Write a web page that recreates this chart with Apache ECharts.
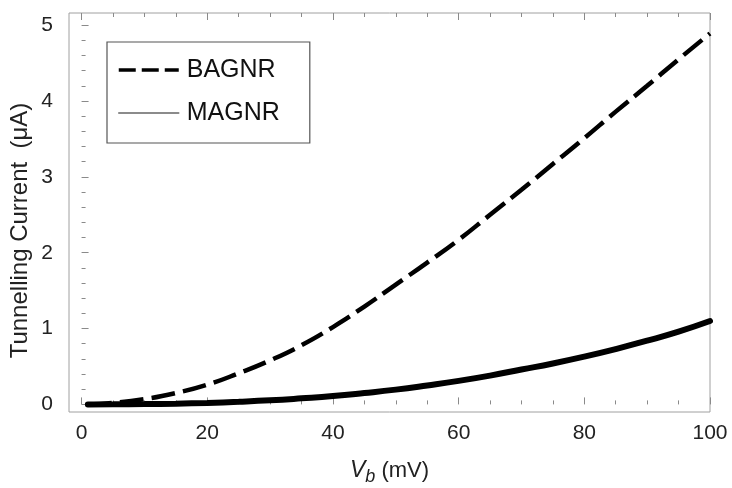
<!DOCTYPE html>
<html>
<head>
<meta charset="utf-8">
<script src="https://cdn.jsdelivr.net/npm/echarts@6/dist/echarts.min.js"></script>
<style>html,body{margin:0;padding:0;background:#fff}#c{width:732px;height:488px}</style>
</head>
<body>
<div id="c"></div>
<script>
var vb = [1, 5, 10, 15, 20, 25, 30, 35, 40, 45, 50, 55, 60, 65, 70, 75, 80, 85, 90, 95, 100];
var bagnr = [0.00, 0.02, 0.07, 0.15, 0.26, 0.41, 0.58, 0.78, 1.02, 1.29, 1.58, 1.87, 2.17, 2.50, 2.83, 3.17, 3.51, 3.86, 4.20, 4.55, 4.89];
var magnr = [0.00, 0.001, 0.004, 0.01, 0.02, 0.035, 0.054, 0.08, 0.11, 0.15, 0.195, 0.25, 0.31, 0.38, 0.46, 0.54, 0.63, 0.73, 0.84, 0.96, 1.10];
var xMajor = [0, 20, 40, 60, 80, 100];
var xMinor = [5, 10, 15, 25, 30, 35, 45, 50, 55, 65, 70, 75, 85, 90, 95];
var yMajor = [0, 1, 2, 3, 4, 5];
var yMinor = [0.2, 0.4, 0.6, 0.8, 1.2, 1.4, 1.6, 1.8, 2.2, 2.4, 2.6, 2.8, 3.2, 3.4, 3.6, 3.8, 4.2, 4.4, 4.6, 4.8];

var FONT = 'Liberation Sans';
var tickColor = '#8a8a8a';
var XMIN = -2, XMAX = 100, YMIN = -0.1, YMAX = 5.16;

function pair(a, b) { return a.map(function (v, i) { return [v, b[i]]; }); }

function xAx(pos, ticks, len, labels) {
  return {
    type: 'value', position: pos, min: XMIN, max: XMAX,
    axisLine: { show: false }, splitLine: { show: false },
    axisTick: { show: true, inside: true, length: len, customValues: ticks, lineStyle: { color: tickColor, width: 1 } },
    axisLabel: labels ? { show: true, customValues: ticks, margin: 11, fontSize: 21, fontFamily: FONT, color: '#222' } : { show: false }
  };
}
function yAx(pos, ticks, len, labels) {
  return {
    type: 'value', position: pos, min: YMIN, max: YMAX,
    axisLine: { show: false }, splitLine: { show: false },
    axisTick: { show: true, inside: true, length: len, customValues: ticks, lineStyle: { color: tickColor, width: 1 } },
    axisLabel: labels ? { show: true, customValues: ticks, margin: 16, fontSize: 21, fontFamily: FONT, color: '#222' } : { show: false }
  };
}

var xa0 = xAx('bottom', xMajor, 7, true);
xa0.name = '{i|V}{s|b} (mV)';
xa0.nameLocation = 'middle';
xa0.nameGap = 44;
xa0.nameMoveOverlap = false;
xa0.nameTextStyle = {
  fontFamily: FONT, fontSize: 22, color: '#222',
  rich: { i: { fontStyle: 'italic', fontSize: 23, fontFamily: FONT, color: '#222' }, s: { fontStyle: 'italic', fontSize: 18, fontFamily: FONT, color: '#222', verticalAlign: 'bottom', padding: [12, 0, 0, 0] } }
};
var ya0 = yAx('left', yMajor, 7, true);
ya0.name = 'Tunnelling Current  (\u03bcA)';
ya0.nameLocation = 'middle';
ya0.nameGap = 37;
ya0.nameMoveOverlap = false;
ya0.nameTextStyle = { fontFamily: FONT, fontSize: 24, color: '#222', padding: [0, 36, 0, 0] };

var chart = echarts.init(document.getElementById('c'), null, { renderer: 'canvas' });
chart.setOption({
  animation: false,
  backgroundColor: '#fff',
  grid: { left: 69, right: 22, top: 13, bottom: 76, show: true, borderColor: '#a0a0a0', borderWidth: 1, backgroundColor: 'transparent', containLabel: false, outerBoundsMode: 'none' },
  xAxis: [xa0, xAx('bottom', xMinor, 4, false), xAx('top', xMajor, 7, false), xAx('top', xMinor, 4, false)],
  yAxis: [ya0, yAx('left', yMinor, 4, false)],
  legend: {
    orient: 'vertical', left: 107, top: 42,
    borderColor: '#555', borderWidth: 1.2, borderRadius: 0,
    padding: [13, 30, 15, 10],
    itemWidth: 60, itemHeight: 14, itemGap: 13,
    textStyle: { fontFamily: FONT, fontSize: 25, color: '#111', lineHeight: 30, padding: [0, 0, 0, 3] },
    data: [
      { name: 'BAGNR', itemStyle: { opacity: 0 }, lineStyle: { color: '#000', width: 3.5, type: [17, 6] } },
      { name: 'MAGNR', itemStyle: { opacity: 0 }, lineStyle: { color: '#666', width: 1.5, type: 'solid' } }
    ]
  },
  series: [
    {
      name: 'BAGNR', type: 'line', data: pair(vb, bagnr), smooth: 0.5, showSymbol: false, symbol: 'none',
      itemStyle: { color: '#000' },
      lineStyle: { color: '#000', width: 4.5, type: [24, 8], cap: 'butt' }, z: 3
    },
    {
      name: 'MAGNR', type: 'line', data: pair(vb, magnr), smooth: 0.5, showSymbol: false, symbol: 'none',
      itemStyle: { color: '#000' },
      lineStyle: { color: '#000', width: 6, type: 'solid', cap: 'round' }, z: 4
    }
  ]
});
</script>
</body>
</html>
